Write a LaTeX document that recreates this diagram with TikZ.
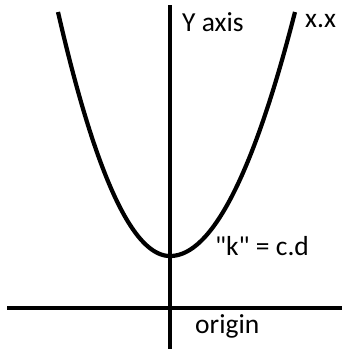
\documentclass[tikz,border=0pt]{standalone}
\usepackage{fontspec}
\setmainfont{Carlito}

\begin{document}
\begin{tikzpicture}[
    x = 1pt, y = -1pt,
    axis/.style = {line width = 4.5pt},
    curve/.style = {line width = 4.2pt, line join = round},
    label/.style = {
        anchor = base west, inner sep = 0pt,
        font = \fontsize{27.5}{32}\selectfont
    }
]
\useasboundingbox (0,0) rectangle (342,349);

% --- Axes ---
\coordinate (ytop)   at (170,   5);
\coordinate (ybot)   at (170, 349);
\coordinate (xleft)  at (  7, 308);
\coordinate (xright) at (342, 308);
\coordinate (vertex) at (170, 256);

\draw[axis] (ytop) -- (ybot);
\draw[axis] (xleft) -- (xright);

% --- Parabola (two branches meeting at the vertex) ---
\draw[curve] plot[domain=58:170, samples=60]
    (\x, {256 - 244*((170-\x)/112)^2})
    -- plot[domain=170:295, samples=60]
    (\x, {256 - 244*((\x-170)/125)^2});

% --- Labels ---
\node[label] (yaxis)  at (182,  31) {Y axis};
\node[label] (xx)     at (305,  27) {x.x};
\node[label] (kval)   at (215, 255) {\textquotedbl k\textquotedbl{} = c.d};
\node[label] (origin) at (195, 333) {origin};

\end{tikzpicture}
\end{document}
